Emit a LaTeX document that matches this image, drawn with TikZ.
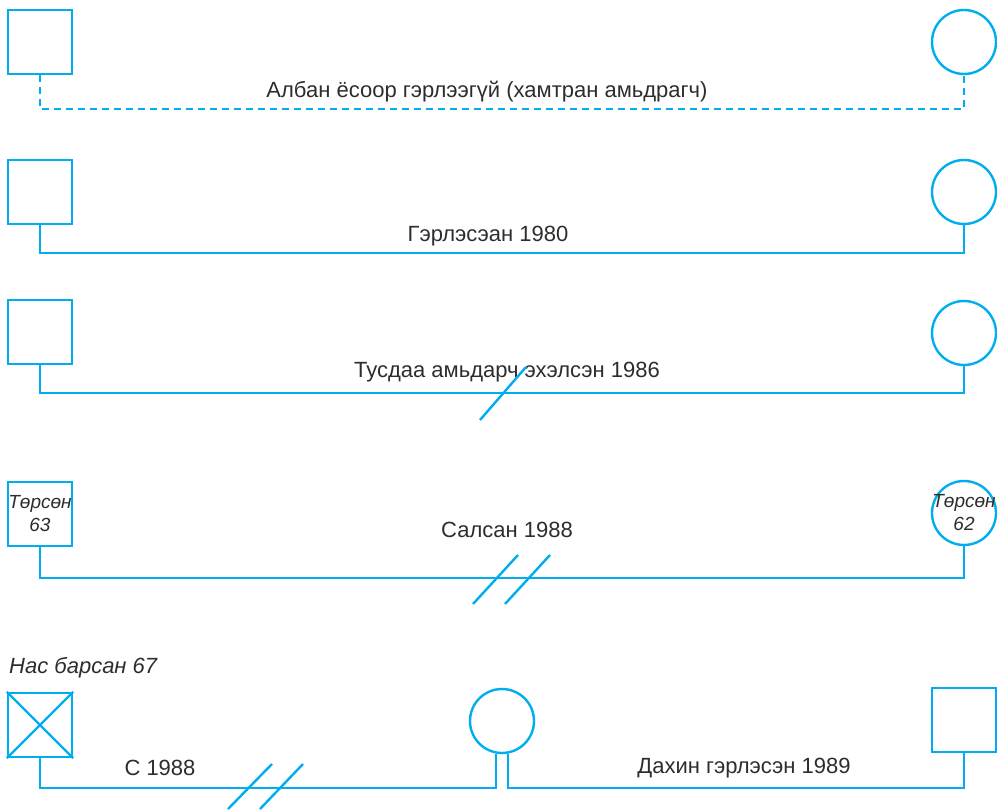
\documentclass[tikz,border=0pt]{standalone}
\usepackage{fontspec}
\setmainfont{Liberation Sans}
\usepackage{tikz}
\usetikzlibrary{positioning, calc}
\definecolor{CyanLine}{RGB}{0,174,239}
\definecolor{TextGray}{RGB}{45,45,45}

\begin{document}
\begin{tikzpicture}[x=1pt, y=-1pt,
  male/.style={draw=CyanLine, line width=2.4pt, rectangle, minimum size=64pt, inner sep=0pt,
               align=center, text=TextGray, font=\fontsize{19}{23}\selectfont\itshape},
  female/.style={draw=CyanLine, line width=2.4pt, circle, minimum size=64pt, inner sep=-9pt,
                 align=center, text=TextGray, font=\fontsize{19}{23}\selectfont\itshape},
  rel/.style={draw=CyanLine, line width=2.4pt},
  lbl/.style={text=TextGray, font=\fontsize{22}{26}\selectfont, inner sep=0pt},
]
\useasboundingbox (0,0) rectangle (997,810);

% row 1
\node[male] (m1) at (40,42) {};
\node[female] (f1) at (964,42) {};
\coordinate (l1) at (487,109);
\draw[rel, dash pattern=on 7pt off 5pt] (m1.south) |- (l1) -| (f1.south);
\node[lbl] (t1) at (487,92) {Албан ёсоор гэрлээгүй (хамтран амьдрагч)};

% row 2
\node[male] (m2) at (40,192) {};
\node[female] (f2) at (964,192) {};
\coordinate (l2) at (487,253);
\draw[rel] (m2.south) |- (l2) -| (f2.south);
\node[lbl] (t2) at (488,236) {Гэрлэсэан 1980};

% row 3
\node[male] (m3) at (40,332) {};
\node[female] (f3) at (964,333) {};
\coordinate (l3) at (503,393);
\draw[rel] (m3.south) |- (l3) -| (f3.south);
\node[lbl] (t3) at (507,372) {Тусдаа амьдарч эхэлсэн 1986};
\draw[rel] (l3) +(-23,27) -- +(23,-26);

% row 4
\node[male] (m4) at (40,514) {Төрсөн\\63};
\node[female] (f4) at (964,513) {Төрсөн\\62};
\coordinate (l4) at (511,578);
\draw[rel] (m4.south) |- (l4) -| (f4.south);
\node[lbl] (t4) at (507,530) {Салсан 1988};
\draw[rel] (l4) +(-38,26) -- +(7,-23);
\draw[rel] (l4) +(-6,26) -- +(39,-23);

% row 5
\node[lbl, font=\fontsize{22}{26}\selectfont\itshape, anchor=west] (t5) at (9,668) {Нас барсан 67};
\node[male] (d5) at (40,725) {};
\draw[rel] (d5.north west) -- (d5.south east);
\draw[rel] (d5.north east) -- (d5.south west);
\node[female] (c5) at (502,721) {};
\node[male] (m5) at (964,720) {};
\coordinate (l5) at (266,788);
\coordinate (r5) at (740,788);
\draw[rel] (d5.south) |- (l5) -| (c5.-100);
\draw[rel] (c5.-80) |- (r5) -| (m5.south);
\node[lbl] (t6) at (160,768) {С 1988};
\node[lbl] (t7) at (744,768) {Дахин гэрлэсэн 1989};
\draw[rel] (l5) +(-38,21) -- +(6,-24);
\draw[rel] (l5) +(-6,21) -- +(37,-24);
\end{tikzpicture}
\end{document}
